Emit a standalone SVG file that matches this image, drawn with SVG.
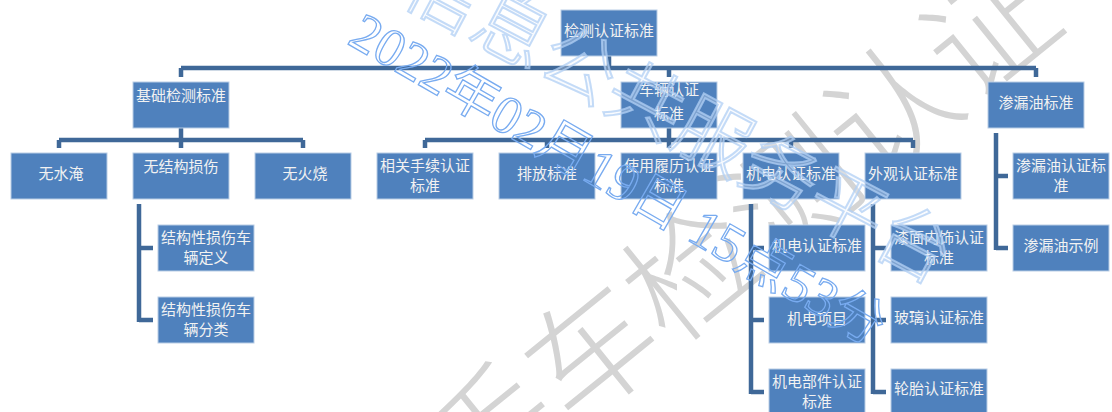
<svg xmlns="http://www.w3.org/2000/svg" width="1112" height="412" viewBox="0 0 1112 412">
<style>
.box{fill:#4F81BD;stroke:#B9CDE5;stroke-width:1}
.t{font-family:"Noto Sans CJK SC","Noto Sans",sans-serif;font-size:15px;fill:#F2F2F2;text-anchor:middle}
.c{fill:none;stroke:#3F6898;stroke-width:4.5;stroke-linecap:butt}
.wmg{font-family:"Noto Sans CJK SC",sans-serif;font-weight:300;font-size:128px;fill:#D4D4D4}
.wmb{font-family:"Liberation Serif","Noto Sans CJK SC",serif;font-size:54px;fill:none;stroke:#78ABF0;stroke-width:1.3}
.wmf{font-family:"Noto Sans CJK SC",sans-serif;font-weight:300;font-size:76px;fill:#EAF2FD;fill-opacity:0.3;stroke:#B0CFF4;stroke-width:2;stroke-opacity:0.75}
</style>
<rect width="1112" height="412" fill="#FFFFFF"/>
<g id="watermark-gray">
<text class="wmg" transform="translate(472,509) rotate(-39)">手车检测认证</text>
</g>
<g id="connectors">
<path class="c" d="M609,56 V68 M181,68 H1036 M181,68 V77 M669,68 V77 M1036,68 V77"/>
<path class="c" d="M181,128 V148 M59,140 H303 M59,140 V148 M303,140 V148"/>
<path class="c" d="M669,128 V148 M425,140 H913 M425,140 V148 M547,140 V148 M791,140 V148 M913,140 V148"/>
<path class="c" d="M139,204 V322 M139,248 H153 M139,320 H153"/>
<path class="c" d="M751,204 V394 M751,248 H764 M751,320 H764 M751,392 H764"/>
<path class="c" d="M873,204 V394 M873,248 H886 M873,320 H886 M873,392 H886"/>
<path class="c" d="M996,133 V250 M996,176 H1008 M996,248 H1008"/>
</g>
<g id="n-root"><rect class="box" x="561" y="10" width="96" height="46"/><text class="t" x="609" y="35.5">检测认证标准</text></g>
<g id="n-jichu"><rect class="box" x="133" y="82" width="96" height="46"/><text class="t" x="181" y="100.5">基础检测标准</text></g>
<g id="n-cheliang"><rect class="box" x="621" y="82" width="96" height="46"/><text class="t" x="669" y="95">车辆认证</text><text class="t" x="669" y="118.5">标准</text></g>
<g id="n-shenlouyou"><rect class="box" x="988" y="82" width="96" height="46"/><text class="t" x="1036" y="107.5">渗漏油标准</text></g>
<g id="n-wushuiyan"><rect class="box" x="11" y="153" width="96" height="46"/><text class="t" x="61" y="178.5">无水淹</text></g>
<g id="n-wujiegou"><rect class="box" x="133" y="153" width="96" height="46"/><text class="t" x="181" y="171.5">无结构损伤</text></g>
<g id="n-wuhuoshao"><rect class="box" x="255" y="153" width="96" height="46"/><text class="t" x="305" y="178.5">无火烧</text></g>
<g id="n-shouxu"><rect class="box" x="377" y="153" width="96" height="46"/><text class="t" x="425" y="171">相关手续认证</text><text class="t" x="425" y="191">标准</text></g>
<g id="n-paifang"><rect class="box" x="499" y="153" width="96" height="46"/><text class="t" x="547" y="178.5">排放标准</text></g>
<g id="n-lvli"><rect class="box" x="621" y="153" width="96" height="46"/><text class="t" x="669" y="171">使用履历认证</text><text class="t" x="669" y="191">标准</text></g>
<g id="n-jidian"><rect class="box" x="743" y="153" width="96" height="46"/><text class="t" x="791" y="178.5">机电认证标准</text></g>
<g id="n-waiguan"><rect class="box" x="865" y="153" width="96" height="46"/><text class="t" x="913" y="178.5">外观认证标准</text></g>
<g id="n-shenlouyou-rz"><rect class="box" x="1013" y="153" width="96" height="46"/><text class="t" x="1061" y="171">渗漏油认证标</text><text class="t" x="1061" y="191">准</text></g>
<g id="n-jiegou-dy"><rect class="box" x="158" y="225" width="96" height="46"/><text class="t" x="206" y="243">结构性损伤车</text><text class="t" x="206" y="263">辆定义</text></g>
<g id="n-jiegou-fl"><rect class="box" x="158" y="297" width="96" height="46"/><text class="t" x="206" y="315">结构性损伤车</text><text class="t" x="206" y="335">辆分类</text></g>
<g id="n-jidian-rz"><rect class="box" x="769" y="225" width="96" height="46"/><text class="t" x="817" y="250.5">机电认证标准</text></g>
<g id="n-jidian-xm"><rect class="box" x="769" y="297" width="96" height="46"/><text class="t" x="817" y="323.5">机电项目</text></g>
<g id="n-jidian-bj"><rect class="box" x="769" y="369" width="96" height="46"/><text class="t" x="817" y="387">机电部件认证</text><text class="t" x="817" y="407">标准</text></g>
<g id="n-qimian"><rect class="box" x="891" y="225" width="96" height="46"/><text class="t" x="939" y="243">漆面内饰认证</text><text class="t" x="939" y="263">标准</text></g>
<g id="n-boli"><rect class="box" x="891" y="297" width="96" height="46"/><text class="t" x="939" y="322.5">玻璃认证标准</text></g>
<g id="n-luntai"><rect class="box" x="891" y="369" width="96" height="46"/><text class="t" x="939" y="393.5">轮胎认证标准</text></g>
<g id="n-shenlouyou-sl"><rect class="box" x="1013" y="225" width="96" height="46"/><text class="t" x="1061" y="250.5">渗漏油示例</text></g>
<g id="watermark-blue">
<text class="wmf" transform="translate(399,0) rotate(28)">信息公共服务平台</text>
<text class="wmb" transform="translate(346,43) rotate(30)">2022年02月19日 15点53分</text>
</g>
</svg>
